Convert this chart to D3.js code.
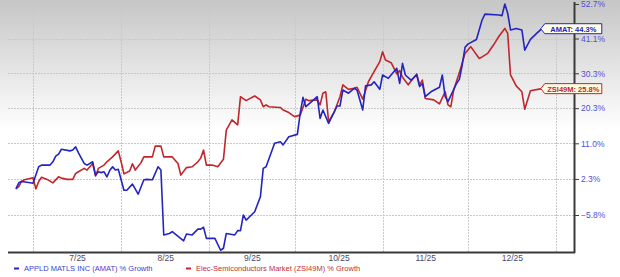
<!DOCTYPE html>
<html>
<head>
<meta charset="utf-8">
<script src="https://cdn.jsdelivr.net/npm/d3@7"></script>
<style>
html,body{margin:0;padding:0;background:#fff;}
svg{display:block;}
text{font-family:"Liberation Sans",Arial,sans-serif;}
</style>
</head>
<body>
<svg id="chart" width="620" height="277"></svg>
<script>
// ---------- DATA ----------
const amatDates = ["2025-06-25","2025-06-26","2025-06-27","2025-06-30","2025-07-01","2025-07-03","2025-07-04","2025-07-07","2025-07-08","2025-07-09","2025-07-10","2025-07-11","2025-07-14","2025-07-15","2025-07-16","2025-07-17","2025-07-19","2025-07-20","2025-07-22","2025-07-23","2025-07-24","2025-07-25","2025-07-26","2025-07-27","2025-07-28","2025-07-29","2025-07-30","2025-07-31","2025-08-02","2025-08-03","2025-08-05","2025-08-07","2025-08-09","2025-08-10","2025-08-12","2025-08-14","2025-08-15","2025-08-16","2025-08-18","2025-08-19","2025-08-23","2025-08-24","2025-08-26","2025-08-28","2025-08-29","2025-08-30","2025-08-31","2025-09-03","2025-09-05","2025-09-06","2025-09-07","2025-09-10","2025-09-11","2025-09-12","2025-09-13","2025-09-14","2025-09-17","2025-09-19","2025-09-20","2025-09-21","2025-09-24","2025-09-26","2025-09-27","2025-09-29","2025-10-02","2025-10-03","2025-10-04","2025-10-05","2025-10-07","2025-10-09","2025-10-10","2025-10-11","2025-10-13","2025-10-16","2025-10-17","2025-10-18","2025-10-20","2025-10-22","2025-10-23","2025-10-25","2025-10-26","2025-10-28","2025-10-29","2025-10-31","2025-11-01","2025-11-03","2025-11-06","2025-11-07","2025-11-08","2025-11-09","2025-11-11","2025-11-13","2025-11-14","2025-11-15","2025-11-16","2025-11-18","2025-11-21","2025-11-22","2025-11-23","2025-11-24","2025-11-27","2025-11-28","2025-11-29","2025-11-30","2025-12-01","2025-12-04","2025-12-06","2025-12-07","2025-12-12","2025-12-13","2025-12-14","2025-12-15","2025-12-16","2025-12-18","2025-12-20","2025-12-21","2025-12-23","2025-12-25","2025-12-27"];
const amatGrowth = [0.0,1.4,1.7,1.4,1.3,5.2,5.6,5.6,6.4,7.8,8.3,9.5,9.1,9.3,10.1,8.6,6.0,5.6,6.4,3.2,4.0,3.8,4.0,2.8,4.3,5.2,4.4,4.6,-0.3,-0.3,1.1,-1.2,2.1,2.2,2.1,5.2,4.4,-10.0,-9.7,-9.3,-11.2,-9.8,-10.0,-8.8,-8.8,-8.4,-10.7,-10.7,-13.1,-12.7,-9.7,-10.0,-9.1,-9.1,-5.8,-6.9,-5.1,-1.8,4.8,5.2,11.0,11.4,10.6,12.7,13.3,18.9,23.3,20.7,22.1,23.5,17.5,19.8,16.2,20.9,20.9,25.4,24.5,25.9,25.4,19.8,26.6,26.9,27.8,25.6,29.8,28.8,31.8,27.3,33.3,29.8,28.3,29.8,26.4,27.3,23.5,24.9,26.2,29.8,23.5,22.1,27.3,28.5,32.8,38.3,39.3,40.8,47.2,49.2,48.9,48.7,52.7,49.5,43.9,44.4,43.9,37.4,40.8,42.6,44.3];

const zsiDates = ["2025-06-25","2025-06-26","2025-06-27","2025-06-28","2025-07-01","2025-07-02","2025-07-03","2025-07-04","2025-07-06","2025-07-08","2025-07-10","2025-07-11","2025-07-13","2025-07-15","2025-07-16","2025-07-17","2025-07-19","2025-07-20","2025-07-22","2025-07-23","2025-07-24","2025-07-26","2025-07-27","2025-07-29","2025-07-31","2025-08-01","2025-08-02","2025-08-04","2025-08-05","2025-08-06","2025-08-08","2025-08-09","2025-08-12","2025-08-13","2025-08-15","2025-08-16","2025-08-19","2025-08-21","2025-08-22","2025-08-24","2025-08-26","2025-08-28","2025-08-29","2025-08-30","2025-08-31","2025-09-02","2025-09-04","2025-09-06","2025-09-07","2025-09-09","2025-09-11","2025-09-12","2025-09-14","2025-09-16","2025-09-17","2025-09-19","2025-09-20","2025-09-21","2025-09-22","2025-09-26","2025-09-27","2025-09-29","2025-10-01","2025-10-03","2025-10-05","2025-10-06","2025-10-09","2025-10-10","2025-10-11","2025-10-12","2025-10-13","2025-10-15","2025-10-17","2025-10-18","2025-10-20","2025-10-22","2025-10-23","2025-10-25","2025-10-27","2025-10-29","2025-10-31","2025-11-01","2025-11-02","2025-11-04","2025-11-06","2025-11-07","2025-11-08","2025-11-10","2025-11-13","2025-11-14","2025-11-15","2025-11-16","2025-11-19","2025-11-21","2025-11-23","2025-11-24","2025-11-25","2025-11-26","2025-11-28","2025-11-30","2025-12-01","2025-12-02","2025-12-05","2025-12-06","2025-12-08","2025-12-10","2025-12-12","2025-12-14","2025-12-15","2025-12-16","2025-12-18","2025-12-20","2025-12-21","2025-12-23","2025-12-27"];
const zsiGrowth = [0.0,0.5,1.8,2.1,2.6,0.0,1.7,2.7,2.2,1.4,2.8,2.5,2.2,2.2,3.6,4.0,4.8,4.4,6.0,3.0,4.8,5.6,6.4,7.6,9.1,6.4,3.5,4.2,5.9,4.4,6.2,7.6,7.6,10.3,10.3,7.6,7.6,6.0,3.2,5.0,5.2,6.4,7.3,9.3,5.6,5.6,5.2,7.0,14.4,17.1,15.8,23.5,22.4,23.3,23.7,22.6,20.7,21.2,20.7,20.5,19.8,19.1,18.0,18.4,22.8,22.4,22.6,21.2,24.5,24.9,16.6,19.3,23.5,26.9,25.6,25.9,26.2,22.8,27.8,30.8,33.8,36.9,34.3,33.5,30.1,31.1,29.1,26.9,30.1,26.9,28.3,23.0,22.6,21.5,24.9,21.2,20.7,25.4,30.5,36.4,37.4,38.5,34.8,35.3,36.4,39.0,41.9,44.4,42.8,29.8,26.6,24.9,20.0,25.2,25.8];

const yTickValues = [52.7, 41.1, 30.3, 20.3, 11.0, 2.3, -5.8];
const monthStarts = ["2025-07-01","2025-08-01","2025-09-01","2025-10-01","2025-11-01","2025-12-01","2026-01-01"];
const xLabels = ["7/25","8/25","9/25","10/25","11/25","12/25"];
const seriesNames = ["APPLD MATLS INC (AMAT) % Growth","Elec-Semiconductors Market (ZSI49M) % Growth"];
const calloutNames = ["AMAT","ZSI49M"];
const seriesColors = ["#2424c0","#c0262b"];

// ---------- SETUP ----------
const parse = d3.timeParse("%Y-%m-%d");
const svg = d3.select("#chart");
const W = 620, H = 277;
const plotL = 8, plotR = 574, plotT = 4, plotB = 252;

const defs = svg.append("defs");
const grad = defs.append("linearGradient").attr("id","bg").attr("x1",0).attr("y1",0).attr("x2",0).attr("y2",1)
  .attr("gradientUnits","userSpaceOnUse").attr("y2",130).attr("x2",0);
grad.append("stop").attr("offset",0).attr("stop-color","#c6c6c6");
grad.append("stop").attr("offset",1).attr("stop-color","#ffffff");
svg.append("rect").attr("x",0).attr("y",0).attr("width",W).attr("height",H).attr("fill","url(#bg)");

const x = d3.scaleTime()
  .domain([parse(monthStarts[0]), parse(monthStarts[monthStarts.length-1])])
  .range([33, 556]);
const y = d3.scaleLog()
  .domain([1 + yTickValues[yTickValues.length-1]/100, 1 + yTickValues[0]/100])
  .range([215, 4]);
const yv = g => y(1 + g/100);

// gridlines
const grid = svg.append("g").attr("stroke","#c9c9c9").attr("stroke-width",1).attr("stroke-dasharray","2,1");
grid.selectAll("line.h").data(yTickValues).join("line")
  .attr("x1",plotL).attr("x2",plotR)
  .attr("y1",d=>Math.round(yv(d))+0.5).attr("y2",d=>Math.round(yv(d))+0.5);
grid.selectAll("line.v").data(monthStarts.map(parse)).join("line")
  .attr("x1",d=>Math.round(x(d))+0.5).attr("x2",d=>Math.round(x(d))+0.5)
  .attr("y1",plotT).attr("y2",plotB);

// axes lines
svg.append("line").attr("x1",plotL).attr("x2",plotR+1).attr("y1",plotB+0.5).attr("y2",plotB+0.5)
  .attr("stroke","#3a3a3a").attr("stroke-width",2);
svg.append("line").attr("x1",plotR+0.5).attr("x2",plotR+0.5).attr("y1",2).attr("y2",plotB+1)
  .attr("stroke","#3a3a3a").attr("stroke-width",2);

// right axis
const yAxis = d3.axisRight(y)
  .tickValues(yTickValues.map(v=>1+v/100))
  .tickFormat(v => d3.format(".1f")((v-1)*100) + "%")
  .tickSize(4).tickPadding(2);
const ya = svg.append("g").attr("transform",`translate(${plotR+1},0)`).call(yAxis);
ya.select(".domain").remove();
ya.selectAll(".tick line").attr("stroke","#3a3a3a");
ya.selectAll(".tick text").attr("fill","#5050d8").attr("font-size",8.5)
  .attr("font-family","'Liberation Sans',Arial,sans-serif");

// bottom axis labels (centered in months)
const mids = monthStarts.slice(0,-1).map((m,i)=>{
  const a = parse(m), b = parse(monthStarts[i+1]);
  return new Date((a.getTime()+b.getTime())/2);
});
const xAxis = d3.axisBottom(x).tickValues(mids).tickFormat((d,i)=>xLabels[i]).tickSize(0).tickPadding(3);
const xa = svg.append("g").attr("transform",`translate(0,${plotB})`).call(xAxis);
xa.select(".domain").remove();
xa.selectAll(".tick text").attr("fill","#4a4a6a").attr("font-size",8.5)
  .attr("font-family","'Liberation Sans',Arial,sans-serif");

// lines
const line = d3.line().x(d=>x(d[0])).y(d=>yv(d[1]));
const series = [
  amatDates.map((d,i)=>[parse(d), amatGrowth[i]]),
  zsiDates.map((d,i)=>[parse(d), zsiGrowth[i]])
];
// draw red first, then blue on top? reference: blue mostly on top in places
[1,0].forEach(k=>{
  svg.append("path").datum(series[k]).attr("d",line)
    .attr("fill","none").attr("stroke",seriesColors[k]).attr("stroke-width",1.6)
    .attr("stroke-linejoin","round");
});

// callouts
series.forEach((s,k)=>{
  const last = s[s.length-1];
  const tx = x(last[0]) - 1, ty = yv(last[1]);
  const bw = 57, bh = 10, ar = 4;
  const g = svg.append("g");
  g.append("path")
    .attr("d",`M${tx},${ty} L${tx+ar},${ty-bh/2} L${tx+ar+bw},${ty-bh/2} L${tx+ar+bw},${ty+bh/2} L${tx+ar},${ty+bh/2} Z`)
    .attr("fill","#fffde4").attr("stroke",seriesColors[k]).attr("stroke-width",1);
  g.append("text").attr("x",tx+ar+bw/2).attr("y",ty+3)
    .attr("text-anchor","middle").attr("font-size",7.5).attr("font-weight","bold")
    .attr("fill",seriesColors[k])
    .text(`${calloutNames[k]}: ${d3.format(".1f")(last[1])}%`);
});

// legend
const legX = [14, 186];
seriesNames.forEach((n,k)=>{
  svg.append("line").attr("x1",legX[k]).attr("x2",legX[k]+5).attr("y1",268.5).attr("y2",268.5)
    .attr("stroke",seriesColors[k]).attr("stroke-width",2);
  svg.append("text").attr("x",legX[k]+10).attr("y",271).attr("font-size",7.5)
    .attr("fill",k===0?"#4040d0":"#c03030").text(n);
});
</script>
</body>
</html>
